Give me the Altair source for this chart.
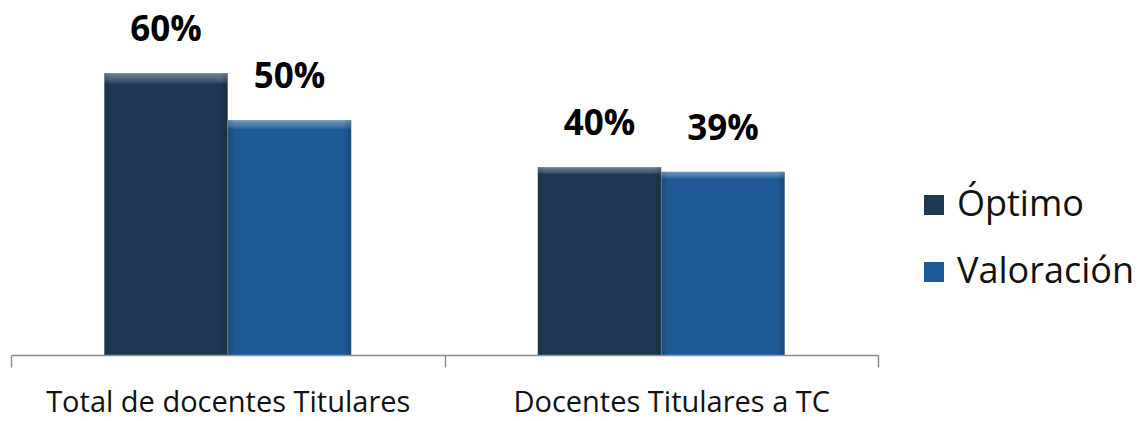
import altair as alt
import pandas as pd

categories = ["Total de docentes Titulares", "Docentes Titulares a TC"]
series = ["Óptimo", "Valoración"]
optimo = [0.60, 0.40]
valoracion = [0.50, 0.39]
colors = ["#1e3a52", "#1f5995"]

rows = []
for i, c in enumerate(categories):
    rows.append({"cat": c, "serie": series[0], "val": optimo[i]})
    rows.append({"cat": c, "serie": series[1], "val": valoracion[i]})
df = pd.DataFrame(rows)
df["label"] = (df["val"] * 100).round().astype(int).astype(str) + "%"

FONT = "Open Sans"

x = alt.X("cat:N", sort=categories, title=None,
          scale=alt.Scale(paddingInner=0, paddingOuter=0),
          axis=alt.Axis(labelAngle=0, labelFontSize=29, labelFont=FONT, labelColor="#111111",
                        labelLimit=0,
                        labelOffset={"condition": {"test": "datum.value === 'Docentes Titulares a TC'",
                                                   "value": 10}, "value": 0},
                        domainColor="#8c8c8c", domainWidth=1.5, tickColor="#8c8c8c", tickWidth=1.5,
                        tickSize=12, tickBand="extent", labelPadding=21))
xo = alt.XOffset("serie:N", sort=series,
                 scale=alt.Scale(paddingOuter=0.755, paddingInner=0))
y = alt.Y("val:Q", scale=alt.Scale(domain=[0, 0.6]), axis=None)

bars = alt.Chart(df).mark_bar(stroke="#ffffff", strokeWidth=0.6, strokeOpacity=0.35).encode(
    x=x, xOffset=xo, y=y,
    color=alt.Color("serie:N", sort=series,
                    scale=alt.Scale(domain=series, range=colors),
                    legend=alt.Legend(title=None, orient="none", legendX=905, legendY=114,
                                      symbolType="square", symbolSize=400, symbolStrokeWidth=0,
                                      labelFontSize=36, labelFont=FONT, labelColor="#111111",
                                      labelLimit=0, padding=0,
                                      rowPadding=31, labelOffset=5, symbolOpacity=1))
)

top_bevel = alt.LinearGradient(
    gradient="linear", x1=0, y1=0, x2=0, y2=1,
    stops=[alt.GradientStop(color="rgba(255,255,255,0.38)", offset=0),
           alt.GradientStop(color="rgba(255,255,255,0.14)", offset=0.03),
           alt.GradientStop(color="rgba(255,255,255,0)", offset=0.04),
           alt.GradientStop(color="rgba(255,255,255,0)", offset=1)])
side_bevel = alt.LinearGradient(
    gradient="linear", x1=0, y1=0, x2=1, y2=0,
    stops=[alt.GradientStop(color="rgba(0,0,0,0.15)", offset=0),
           alt.GradientStop(color="rgba(0,0,0,0)", offset=0.06),
           alt.GradientStop(color="rgba(0,0,0,0)", offset=0.94),
           alt.GradientStop(color="rgba(0,0,0,0.2)", offset=1)])

bev1 = alt.Chart(df).mark_bar(color=top_bevel).encode(x=x, xOffset=xo, y=y)
bev2 = alt.Chart(df).mark_bar(color=side_bevel).encode(x=x, xOffset=xo, y=y)

labels = alt.Chart(df).mark_text(fontSize=35, font=FONT, fontWeight="bold", dy=-43,
                                 color="#000000").encode(
    x=x, xOffset=xo, y=y, text="label:N"
)

chart = (bars + bev1 + bev2 + labels).properties(
    width=867, height=282,
    background="white",
    autosize=alt.AutoSizeParams(type="none"),
    padding={"left": 3, "top": 65, "right": 258, "bottom": 58},
).configure_view(stroke=None, strokeWidth=0)

chart.save("out.html", embed_options={"renderer": "svg", "actions": False})
